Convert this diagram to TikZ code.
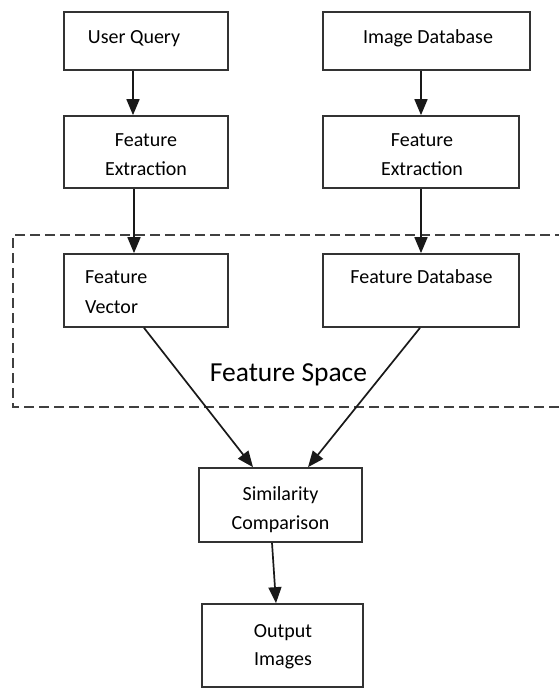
\documentclass[tikz,border=0pt]{standalone}
\usepackage{fontspec}
\setmainfont{Carlito}
\usetikzlibrary{arrows.meta}
\begin{document}
\begin{tikzpicture}[x=1pt,y=-1pt,
  box/.style={draw=black!80, line width=1.7pt, rectangle, inner sep=0pt},
  txt/.style={inner sep=0pt, anchor=base, align=center, font=\fontsize{20}{29}\selectfont},
  arr/.style={-{Triangle[length=16pt,width=13pt]}, line width=1.7pt, draw=black!90},
  dashbox/.style={draw=black!75, line width=1.4pt, dash pattern=on 10pt off 5pt}
  ]
\useasboundingbox (0,0) rectangle (559,688);
% dashed feature space region
\draw[dashbox] (565,235) -- (13,235) -- (13,407) -- (565,407);
% boxes
\node[box, minimum width=164pt, minimum height=58pt] (uq)  at (146,41) {};
\node[box, minimum width=207pt, minimum height=58pt] (id)  at (426.5,41) {};
\node[box, minimum width=164pt, minimum height=72pt] (fe1) at (146,152) {};
\node[box, minimum width=196pt, minimum height=72pt] (fe2) at (421,152) {};
\node[box, minimum width=164pt, minimum height=73pt] (fv)  at (146,290.5) {};
\node[box, minimum width=196pt, minimum height=73pt] (fd)  at (421,290.5) {};
\node[box, minimum width=163pt, minimum height=74pt] (sc)  at (280.5,505) {};
\node[box, minimum width=161pt, minimum height=83pt] (oi)  at (282.5,645.5) {};
% texts (multi-line nodes: base anchor sits on the last line)
\node[txt] (tuq) at (134,43) {User Query};
\node[txt] (tid) at (428,43) {Image Database};
\node[txt] (tfe1) at (146,175) {Feature\\Extraction};
\node[txt] (tfe2) at (422,175) {Feature\\Extraction};
\node[txt, anchor=base west, align=left, font=\fontsize{20}{30}\selectfont] (tfv) at (85,313) {Feature\\Vector};
\node[txt] (tfd) at (421.5,283) {Feature Database};
\node[txt] (tsc) at (280.5,529) {Similarity\\Comparison};
\node[txt, font=\fontsize{20}{28}\selectfont] (toi) at (283,665) {Output\\Images};
\node[txt, font=\fontsize{27.5}{33}\selectfont] (tfs) at (288.5,381) {Feature Space};
% connectors
\draw[arr] ([xshift=-13pt]uq.south) -- ([xshift=-13pt]fe1.north);
\draw[arr] ([xshift=-5.5pt]id.south) -- (fe2.north);
\draw[arr] ([xshift=-12pt]fe1.south) -- ([xshift=-12pt]fv.north);
\draw[arr] (fe2.south) -- (fd.north);
\draw[arr] ([xshift=-2pt]fv.south) -- ([xshift=-27.5pt]sc.north);
\draw[arr] ([xshift=-1pt]fd.south) -- ([xshift=27.5pt]sc.north);
\draw[arr] ([xshift=-8.5pt]sc.south) -- ([xshift=-6.5pt]oi.north);
\end{tikzpicture}
\end{document}
